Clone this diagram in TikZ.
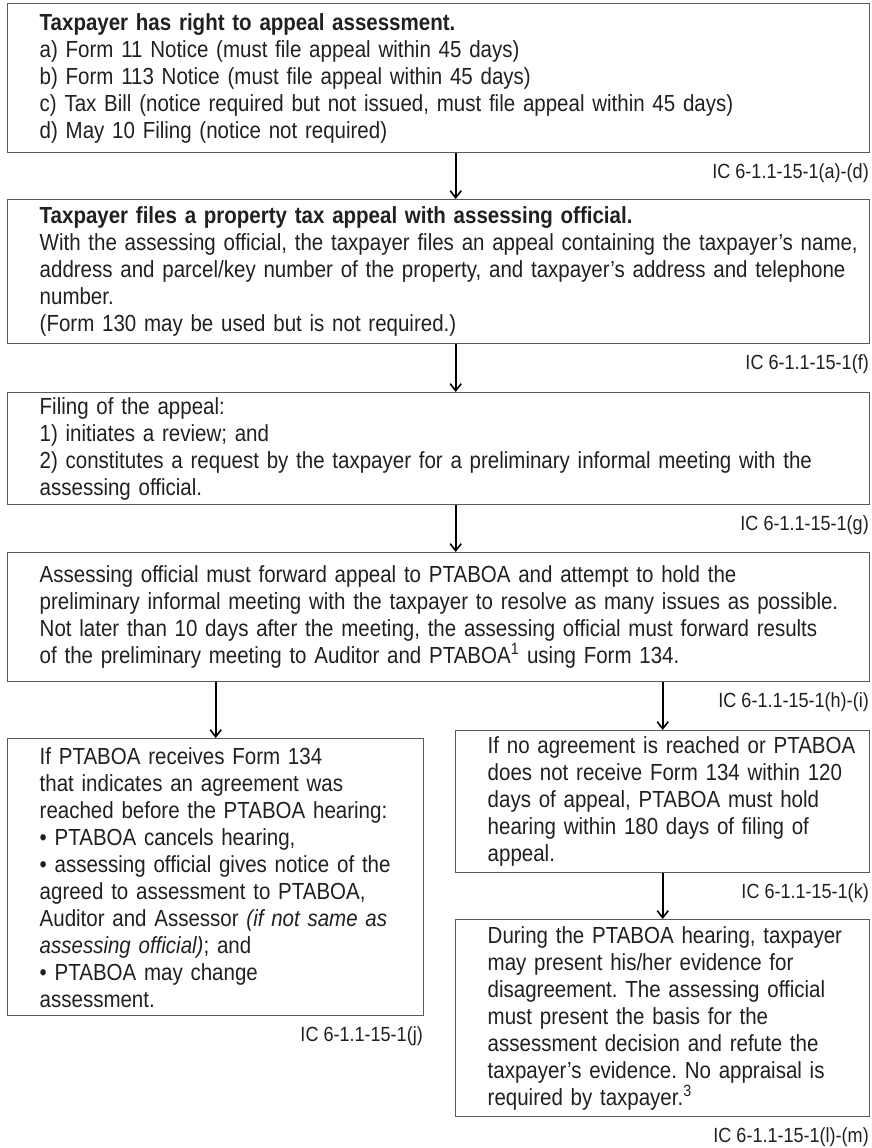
\documentclass[tikz,border=0pt]{standalone}
\usepackage{fontspec}
\setmainfont{Liberation Sans}[FakeStretch=0.88]
\usetikzlibrary{arrows.meta}
\definecolor{bordergray}{HTML}{5A5A5A}
\definecolor{txt}{HTML}{231F20}
\newcommand\myline[1]{\mbox{#1}}
\frenchspacing
\begin{document}
\begin{tikzpicture}[x=1pt,y=-1pt,
  box/.style={draw=bordergray, line width=1.4pt, inner xsep=32pt, inner ysep=0pt,
    anchor=north west, align=left, text=txt, font=\fontsize{23.3}{27}\selectfont},
  cite/.style={anchor=east, inner sep=0pt, text=txt, font=\fontsize{20.5}{22}\selectfont},
  arr/.style={line width=1.6pt, draw=black, -{Straight Barb[length=7pt,width=11pt,line width=1.6pt]}}]
\useasboundingbox (0,0) rectangle (871,1148);

\node[box, minimum width=862pt, minimum height=149pt, text width=798pt] (b1) at (7,3) {%
\myline{\textbf{Taxpayer has right to appeal assessment.}}\\
\myline{a) Form 11 Notice (must file appeal within 45 days)}\\
\myline{b) Form 113 Notice (must file appeal within 45 days)}\\
\myline{c) Tax Bill (notice required but not issued, must file appeal within 45 days)}\\
\myline{d) May 10 Filing (notice not required)}};
\node[cite] (c1) at (869,173) {IC 6-1.1-15-1(a)-(d)};

\node[box, minimum width=862pt, minimum height=144pt, text width=798pt] (b2) at (7,199) {%
\myline{\textbf{Taxpayer files a property tax appeal with assessing official.}}\\
\myline{With the assessing official, the taxpayer files an appeal containing the taxpayer’s name,}\\
\myline{address and parcel/key number of the property, and taxpayer’s address and telephone}\\
\myline{number.}\\
\myline{(Form 130 may be used but is not required.)}};
\node[cite] (c2) at (869,364) {IC 6-1.1-15-1(f)};

\node[box, minimum width=862pt, minimum height=112pt, text width=798pt] (b3) at (7,392) {%
\myline{Filing of the appeal:}\\
\myline{1) initiates a review; and}\\
\myline{2) constitutes a request by the taxpayer for a preliminary informal meeting with the}\\
\myline{assessing official.}};
\node[cite] (c3) at (869,525) {IC 6-1.1-15-1(g)};

\node[box, minimum width=862pt, minimum height=129pt, text width=798pt] (b4) at (7,552) {%
\myline{Assessing official must forward appeal to PTABOA and attempt to hold the}\\
\myline{preliminary informal meeting with the taxpayer to resolve as many issues as possible.}\\
\myline{Not later than 10 days after the meeting, the assessing official must forward results}\\
\myline{of the preliminary meeting to Auditor and PTABOA\textsuperscript{1} using Form 134.}};
\node[cite] (c4) at (869,702) {IC 6-1.1-15-1(h)-(i)};

\node[box, minimum width=416pt, minimum height=277pt, text width=352pt] (b5) at (7,738) {%
\myline{If PTABOA receives Form 134}\\
\myline{that indicates an agreement was}\\
\myline{reached before the PTABOA hearing:}\\
\myline{• PTABOA cancels hearing,}\\
\myline{• assessing official gives notice of the}\\
\myline{agreed to assessment to PTABOA,}\\
\myline{Auditor and Assessor \textit{(if not same as}}\\
\myline{\textit{assessing official)}; and}\\
\myline{• PTABOA may change}\\
\myline{assessment.}};
\node[cite] (c5) at (423,1036) {IC 6-1.1-15-1(j)};

\node[box, minimum width=414pt, minimum height=142pt, text width=350pt] (b6) at (455,730) {%
\myline{If no agreement is reached or PTABOA}\\
\myline{does not receive Form 134 within 120}\\
\myline{days of appeal, PTABOA must hold}\\
\myline{hearing within 180 days of filing of}\\
\myline{appeal.}};
\node[cite] (c6) at (869,893) {IC 6-1.1-15-1(k)};

\node[box, minimum width=414pt, minimum height=197pt, text width=350pt] (b7) at (455,919) {%
\myline{During the PTABOA hearing, taxpayer}\\
\myline{may present his/her evidence for}\\
\myline{disagreement. The assessing official}\\
\myline{must present the basis for the}\\
\myline{assessment decision and refute the}\\
\myline{taxpayer’s evidence. No appraisal is}\\
\myline{required by taxpayer.\textsuperscript{3}}};
\node[cite] (c7) at (869,1137) {IC 6-1.1-15-1(l)-(m)};

\draw[arr] ([xshift=17pt]b1.south) -- ([xshift=17pt]b2.north);
\draw[arr] ([xshift=17pt]b2.south) -- ([xshift=17pt]b3.north);
\draw[arr] ([xshift=17pt]b3.south) -- ([xshift=17pt]b4.north);
\draw[arr] (b4.south -| b5.north) -- (b5.north);
\draw[arr] (b4.south -| b6.north) -- (b6.north);
\draw[arr] (b6.south) -- (b7.north);
\end{tikzpicture}
\end{document}
